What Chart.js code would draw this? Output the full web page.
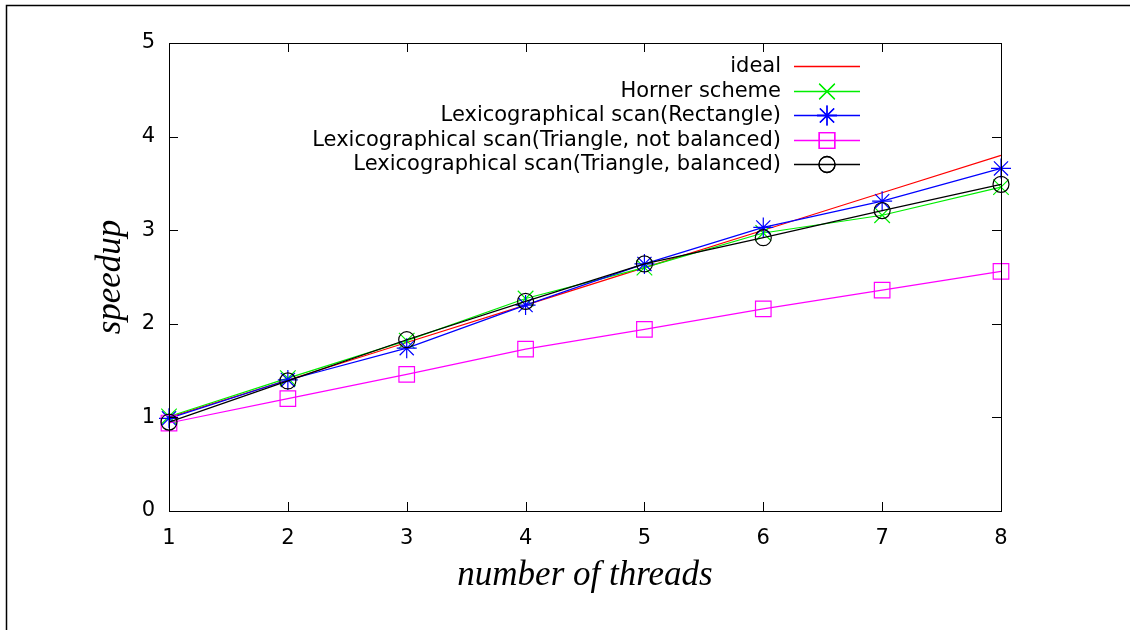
<!DOCTYPE html>
<html>
<head>
<meta charset="utf-8">
<script src="https://cdn.jsdelivr.net/npm/chart.js@4/dist/chart.umd.min.js"></script>
<style>
  html, body { margin: 0; padding: 0; background: #fff; }
  #wrap { width: 1130px; height: 630px; }
</style>
</head>
<body>
<div id="wrap"><canvas id="speedupChart" width="1130" height="630"></canvas></div>
<script>
// données
const threads = [1, 2, 3, 4, 5, 6, 7, 8];
const ideal = [1.0, 1.4, 1.8, 2.2, 2.6, 3.0, 3.4, 3.8];
const horner = [1.01, 1.42, 1.82, 2.27, 2.60, 2.97, 3.16, 3.46];
const lexRect = [0.99, 1.40, 1.74, 2.20, 2.64, 3.03, 3.31, 3.66];
const lexTriNotBal = [0.94, 1.20, 1.46, 1.73, 1.94, 2.16, 2.36, 2.56];
const lexTriBal = [0.95, 1.39, 1.83, 2.24, 2.64, 2.92, 3.21, 3.49];
const yTicks = [0, 1, 2, 3, 4, 5];

const labelFont = { family: 'DejaVu Sans', size: 21 };
const titleFont = { family: 'Liberation Serif', size: 35, style: 'italic' };

function serie(label, data, color, style, radius, order) {
    return {
        label: label,
        data: data,
        borderColor: color,
        borderWidth: 1.2,
        pointStyle: style,
        pointRadius: radius,
        pointBorderColor: color,
        pointBackgroundColor: 'rgba(0,0,0,0)',
        pointBorderWidth: 1.2,
        tension: 0,
        fill: false,
        order: order,
        keyColor: color
    };
}

// cadre extérieur, boîte du tracé et graduations vers l'intérieur
const boxPlugin = {
    id: 'box',
    beforeDraw(chart) {
        const c = chart.ctx;
        c.save();
        c.strokeStyle = '#000';
        c.lineWidth = 1.5;
        c.beginPath();
        c.moveTo(6.5, 630);
        c.lineTo(6.5, 5.5);
        c.lineTo(1130, 5.5);
        c.stroke();
        c.restore();
    },
    afterDatasetsDraw(chart) {
        const c = chart.ctx;
        const a = chart.chartArea;
        const xs = chart.scales.x, ys = chart.scales.y;
        const len = 9;
        c.save();
        c.strokeStyle = '#000';
        c.lineWidth = 1;
        c.beginPath();
        xs.ticks.forEach((t, i) => {
            const px = Math.round(xs.getPixelForTick(i)) + 0.5;
            c.moveTo(px, a.bottom); c.lineTo(px, a.bottom - len);
            c.moveTo(px, a.top); c.lineTo(px, a.top + len);
        });
        ys.ticks.forEach(t => {
            const py = Math.round(ys.getPixelForValue(t.value)) + 0.5;
            c.moveTo(a.left, py); c.lineTo(a.left + len, py);
            c.moveTo(a.right, py); c.lineTo(a.right - len, py);
        });
        c.stroke();
        c.strokeRect(Math.round(a.left) + 0.5, Math.round(a.top) + 0.5,
            Math.round(a.right - a.left), Math.round(a.bottom - a.top));
        c.restore();
    },
    afterDraw(chart) {
        // légende à la gnuplot : texte à droite, puis échantillon
        const c = chart.ctx;
        c.save();
        c.font = '21px "DejaVu Sans"';
        c.textAlign = 'right';
        c.textBaseline = 'middle';
        chart.data.datasets.forEach((ds, i) => {
            const y = Math.round(66 + i * 24.6) + 0.5;
            c.fillStyle = '#000';
            c.fillText(ds.label, 781, y);
            c.strokeStyle = ds.keyColor;
            c.lineWidth = 1.3;
            c.beginPath();
            c.moveTo(794, y);
            c.lineTo(860, y);
            c.stroke();
            if (ds.pointRadius > 0) {
                c.fillStyle = 'rgba(0,0,0,0)';
                Chart.helpers.drawPoint(c, {
                    pointStyle: ds.pointStyle,
                    radius: ds.pointRadius,
                    rotation: 0,
                    borderWidth: ds.pointBorderWidth
                }, 827, y);
                c.stroke();
            }
        });
        c.restore();
    }
};

const ctx = document.getElementById('speedupChart').getContext('2d');
const chart = new Chart(ctx, {
    type: 'line',
    data: {
        labels: threads,
        datasets: [
            serie('ideal', ideal, '#ff0000', 'circle', 0, 5),
            serie('Horner scheme', horner, '#00ee00', 'crossRot', 11, 4),
            serie('Lexicographical scan(Rectangle)', lexRect, '#0000ff', 'star', 10, 3),
            serie('Lexicographical scan(Triangle, not balanced)', lexTriNotBal, '#ff00ff', 'rect', 11, 2),
            serie('Lexicographical scan(Triangle, balanced)', lexTriBal, '#000000', 'circle', 8, 1)
        ]
    },
    options: {
        responsive: false,
        animation: false,
        devicePixelRatio: 1,
        layout: { padding: { top: 43, right: 129, bottom: 0, left: 0 } },
        plugins: {
            legend: { display: false },
            tooltip: { enabled: false }
        },
        scales: {
            x: {
                type: 'category',
                offset: false,
                grid: { display: false, drawTicks: false },
                border: { display: false },
                ticks: { color: '#000', font: labelFont, padding: 15, maxRotation: 0 },
                title: {
                    display: true,
                    text: 'number of threads',
                    color: '#000',
                    font: titleFont,
                    padding: { top: 0, bottom: 33 }
                },
                afterFit(s) { s.height = 119; }
            },
            y: {
                min: 0,
                max: 5,
                grid: { display: false, drawTicks: false },
                border: { display: false },
                ticks: {
                    color: '#000',
                    font: labelFont,
                    padding: 14,
                    stepSize: 1,
                    callback: (v) => yTicks.includes(v) ? String(v) : ''
                },
                title: {
                    display: true,
                    text: 'speedup',
                    color: '#000',
                    font: titleFont,
                    padding: { top: 90, bottom: 0 }
                },
                afterFit(s) { s.width = 169; }
            }
        }
    },
    plugins: [boxPlugin]
});
</script>
</body>
</html>
